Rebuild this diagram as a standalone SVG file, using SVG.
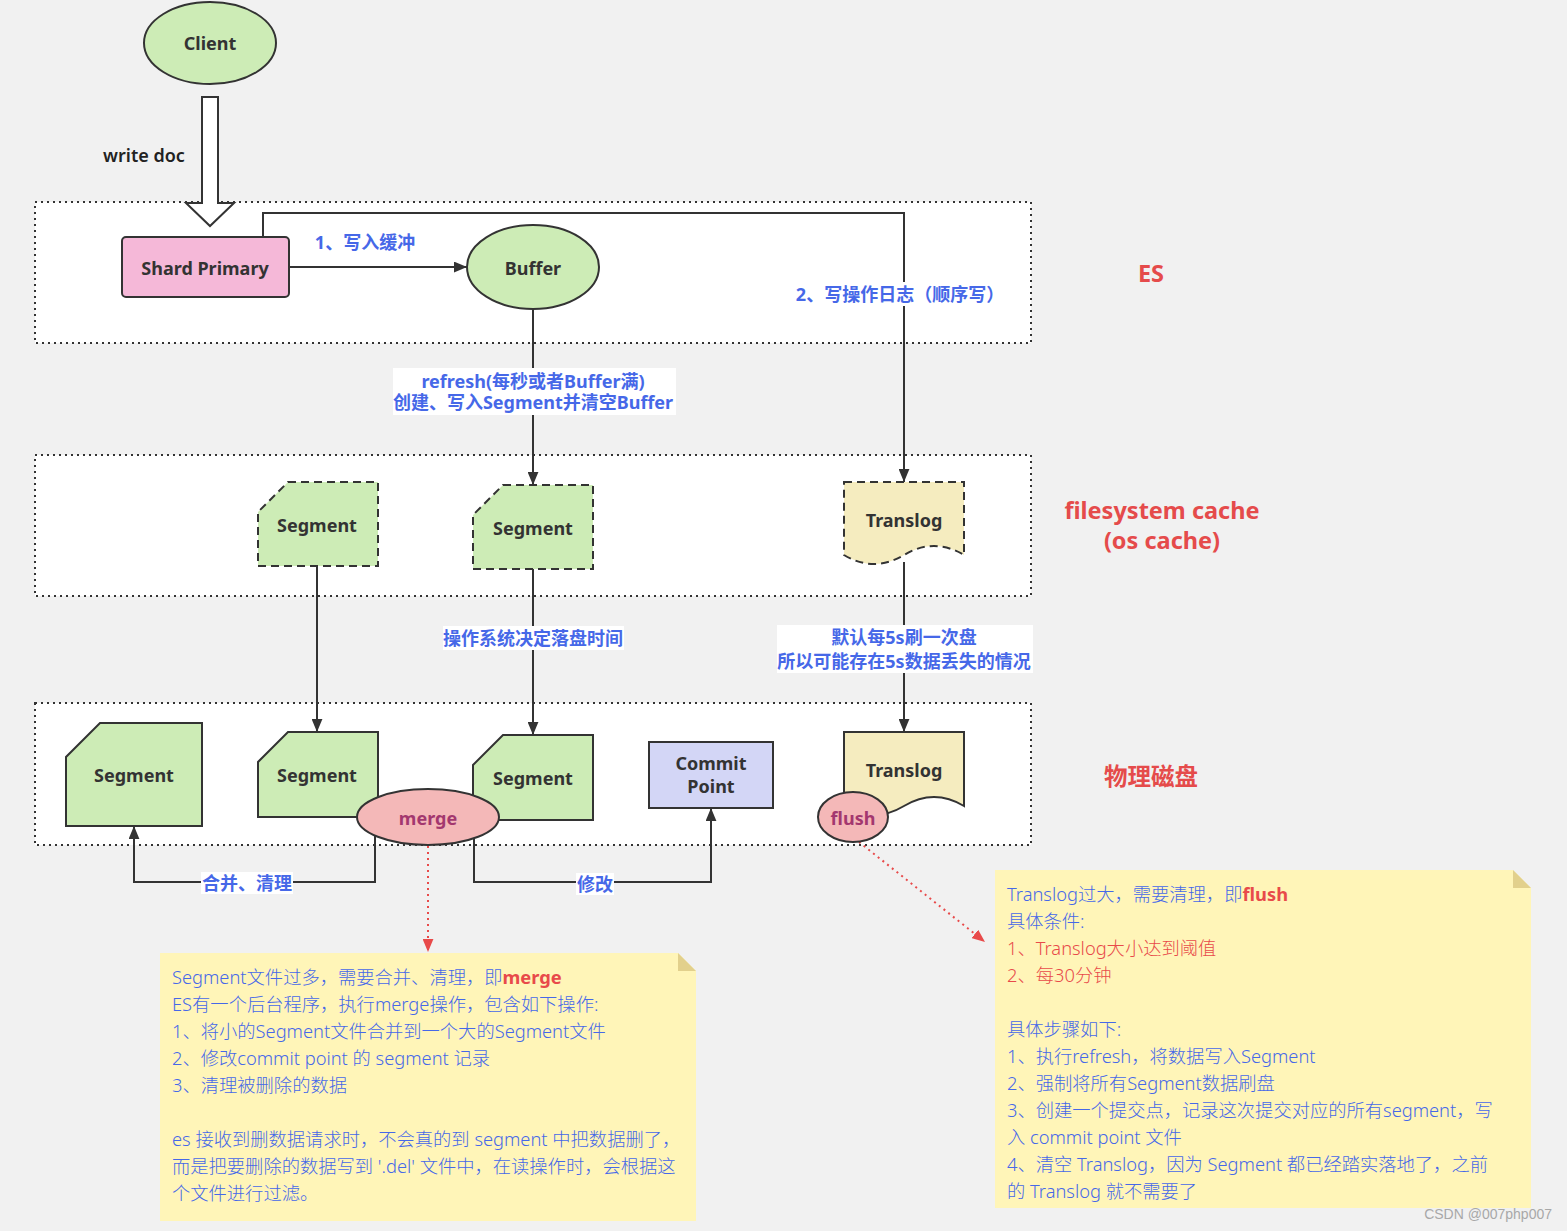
<svg xmlns="http://www.w3.org/2000/svg" width="1567" height="1231" viewBox="0 0 1567 1231">
<style>
.bg{fill:#f1f1f1}
.box{fill:#ffffff;stroke:#333;stroke-width:2;stroke-dasharray:2 4}
.node{stroke:#333;stroke-width:2}
.green{fill:#cdecb6}
.yellow{fill:#f5ecbf}
.dash{stroke-dasharray:8 5}
.lbl{font-family:"Noto Sans","Noto Sans CJK SC",sans-serif;font-size:18px;font-weight:bold;fill:#333;text-anchor:middle;dominant-baseline:central}
.blue{font-family:"Noto Sans","Noto Sans CJK SC",sans-serif;font-size:18px;font-weight:bold;fill:#4668e8;text-anchor:middle;dominant-baseline:central}
.side{font-family:"Noto Sans","Noto Sans CJK SC",sans-serif;font-size:23.5px;font-weight:bold;fill:#e54b4b;text-anchor:middle;dominant-baseline:central}
.conn{fill:none;stroke:#333;stroke-width:2}
.red{fill:none;stroke:#e84a4a;stroke-width:2;stroke-dasharray:2 4}
.note{fill:#fff5b8}
.fold{fill:#e2d08c}
.nt{font-family:"Noto Sans","Noto Sans CJK SC",sans-serif;font-size:18.3px;font-weight:300;fill:#4668e8}
.ntr{fill:#e84a4a}
.bold{font-weight:bold;fill:#e84a4a}
.pink{fill:#f4b8b8}
.mg{fill:#a3376f}
</style>
<defs>
<marker id="ah" viewBox="0 0 12 10" refX="12" refY="5" markerWidth="13" markerHeight="11" markerUnits="userSpaceOnUse" orient="auto">
<path d="M0,0 L12,5 L0,10 z" fill="#333"/>
</marker>
<marker id="ahr" viewBox="0 0 12 10" refX="12" refY="5" markerWidth="13" markerHeight="11" markerUnits="userSpaceOnUse" orient="auto">
<path d="M0,0 L12,5 L0,10 z" fill="#e84a4a"/>
</marker>
</defs>
<rect class="bg" x="0" y="0" width="1567" height="1231"/>

<g id="containers">
<rect class="box" x="35" y="202" width="996" height="141"/>
<rect class="box" x="35" y="455" width="996" height="141"/>
<rect class="box" x="35" y="703" width="996" height="142"/>
</g>

<g id="side-labels">
<text class="side" x="1151" y="273">ES</text>
<text class="side" x="1162" y="510">filesystem cache</text>
<text class="side" x="1162" y="540">(os cache)</text>
<text class="side" x="1151" y="776">物理磁盘</text>
</g>

<g id="connectors">
<polygon points="202,97 218,97 218,203 234,203 210,226 186,203 202,203" fill="#ffffff" stroke="#333" stroke-width="2"/>
<text class="lbl" x="144" y="155" style="font-weight:600;fill:#222">write doc</text>

<line class="conn" x1="289" y1="267" x2="467" y2="267" marker-end="url(#ah)"/>
<text class="blue" x="365" y="242">1、写入缓冲</text>

<polyline class="conn" points="263,237 263,213 904,213 904,482" marker-end="url(#ah)"/>
<rect x="798" y="282" width="204" height="24" fill="#ffffff"/>
<text class="blue" x="900" y="294">2、写操作日志（顺序写）</text>

<line class="conn" x1="533" y1="309" x2="533" y2="485" marker-end="url(#ah)"/>
<rect x="393" y="368" width="283" height="47" fill="#ffffff"/>
<text class="blue" x="533" y="381">refresh(每秒或者Buffer满)</text>
<text class="blue" x="533" y="402">创建、写入Segment并清空Buffer</text>

<line class="conn" x1="317" y1="566" x2="317" y2="732" marker-end="url(#ah)"/>

<line class="conn" x1="533" y1="569" x2="533" y2="735" marker-end="url(#ah)"/>
<rect x="443" y="626" width="181" height="24" fill="#ffffff"/>
<text class="blue" x="533" y="638">操作系统决定落盘时间</text>

<line class="conn" x1="904" y1="562" x2="904" y2="732" marker-end="url(#ah)"/>
<rect x="777" y="625" width="256" height="48" fill="#ffffff"/>
<text class="blue" x="904" y="637">默认每5s刷一次盘</text>
<text class="blue" x="904" y="661">所以可能存在5s数据丢失的情况</text>

<polyline class="conn" points="375,836 375,882 134,882 134,826" marker-end="url(#ah)"/>
<rect x="201" y="872" width="92" height="22" fill="#ffffff"/>
<text class="blue" x="247" y="883">合并、清理</text>

<polyline class="conn" points="474,838 474,882 711,882 711,808" marker-end="url(#ah)"/>
<rect x="576" y="873" width="38" height="22" fill="#ffffff"/>
<text class="blue" x="595" y="884">修改</text>

<line class="red" x1="428" y1="846" x2="428" y2="952" marker-end="url(#ahr)"/>
<line class="red" x1="859" y1="842" x2="985" y2="942" marker-end="url(#ahr)"/>
</g>

<g id="client">
<ellipse class="node green" cx="210" cy="43" rx="66" ry="41"/>
<text class="lbl" x="210" y="43">Client</text>
</g>

<g id="shard-primary">
<rect class="node" x="122" y="237" width="167" height="60" rx="4" fill="#f5b8d8"/>
<text class="lbl" x="205" y="268">Shard Primary</text>
</g>

<g id="buffer">
<ellipse class="node green" cx="533" cy="267" rx="66" ry="42"/>
<text class="lbl" x="533" y="268">Buffer</text>
</g>

<g id="cache-segment-1">
<path class="node green dash" d="M288,482 H378 V566 H258 V512 Z"/>
<text class="lbl" x="317" y="525">Segment</text>
</g>

<g id="cache-segment-2">
<path class="node green dash" d="M503,485 H593 V569 H473 V515 Z"/>
<text class="lbl" x="533" y="528">Segment</text>
</g>

<g id="cache-translog">
<path class="node yellow dash" d="M844,482 H964 V555 Q934,537 904,555 Q874,573 844,555 Z"/>
<text class="lbl" x="904" y="520">Translog</text>
</g>

<g id="disk-segment-1">
<path class="node green" d="M100,723 H202 V826 H66 V757 Z"/>
<text class="lbl" x="134" y="775">Segment</text>
</g>

<g id="disk-segment-2">
<path class="node green" d="M288,732 H378 V817 H258 V762 Z"/>
<text class="lbl" x="317" y="775">Segment</text>
</g>

<g id="disk-segment-3">
<path class="node green" d="M503,735 H593 V820 H473 V765 Z"/>
<text class="lbl" x="533" y="778">Segment</text>
</g>

<g id="merge">
<ellipse class="node pink" cx="428" cy="817" rx="71" ry="28"/>
<text class="lbl mg" x="428" y="818">merge</text>
</g>

<g id="commit-point">
<rect class="node" x="649" y="742" width="124" height="66" fill="#d3d6f6"/>
<text class="lbl" x="711" y="763">Commit</text>
<text class="lbl" x="711" y="786">Point</text>
</g>

<g id="disk-translog">
<path class="node yellow" d="M844,732 H964 V806 Q934,788 904,806 Q874,824 844,806 Z"/>
<text class="lbl" x="904" y="770">Translog</text>
</g>

<g id="flush">
<ellipse class="node pink" cx="853" cy="817" rx="35" ry="25"/>
<text class="lbl mg" x="853" y="818">flush</text>
</g>

<g id="note-merge">
<path class="note" d="M160,953 H678 L696,971 V1221 H160 Z"/>
<path class="fold" d="M678,953 L696,971 H678 Z"/>
<text class="nt" x="172" y="984">Segment文件过多，需要合并、清理，即<tspan class="bold">merge</tspan></text>
<text class="nt" x="172" y="1011">ES有一个后台程序，执行merge操作，包含如下操作:</text>
<text class="nt" x="172" y="1038">1、将小的Segment文件合并到一个大的Segment文件</text>
<text class="nt" x="172" y="1065">2、修改commit point 的 segment 记录</text>
<text class="nt" x="172" y="1092">3、清理被删除的数据</text>
<text class="nt" x="172" y="1146">es 接收到删数据请求时，不会真的到 segment 中把数据删了，</text>
<text class="nt" x="172" y="1173">而是把要删除的数据写到 '.del' 文件中，在读操作时，会根据这</text>
<text class="nt" x="172" y="1200">个文件进行过滤。</text>
</g>

<g id="note-flush">
<path class="note" d="M995,870 H1513 L1531,888 V1208 H995 Z"/>
<path class="fold" d="M1513,870 L1531,888 H1513 Z"/>
<text class="nt" x="1007" y="901">Translog过大，需要清理，即<tspan class="bold">flush</tspan></text>
<text class="nt" x="1007" y="928">具体条件:</text>
<text class="nt ntr" x="1007" y="955">1、Translog大小达到阈值</text>
<text class="nt ntr" x="1007" y="982">2、每30分钟</text>
<text class="nt" x="1007" y="1036">具体步骤如下:</text>
<text class="nt" x="1007" y="1063">1、执行refresh，将数据写入Segment</text>
<text class="nt" x="1007" y="1090">2、强制将所有Segment数据刷盘</text>
<text class="nt" x="1007" y="1117">3、创建一个提交点，记录这次提交对应的所有segment，写</text>
<text class="nt" x="1007" y="1144">入 commit point 文件</text>
<text class="nt" x="1007" y="1171">4、清空 Translog，因为 Segment 都已经踏实落地了，之前</text>
<text class="nt" x="1007" y="1198">的 Translog 就不需要了</text>
</g>

<text x="1552" y="1219" font-family="Liberation Sans, sans-serif" font-size="14" fill="#a8a8a8" text-anchor="end">CSDN @007php007</text>
</svg>
